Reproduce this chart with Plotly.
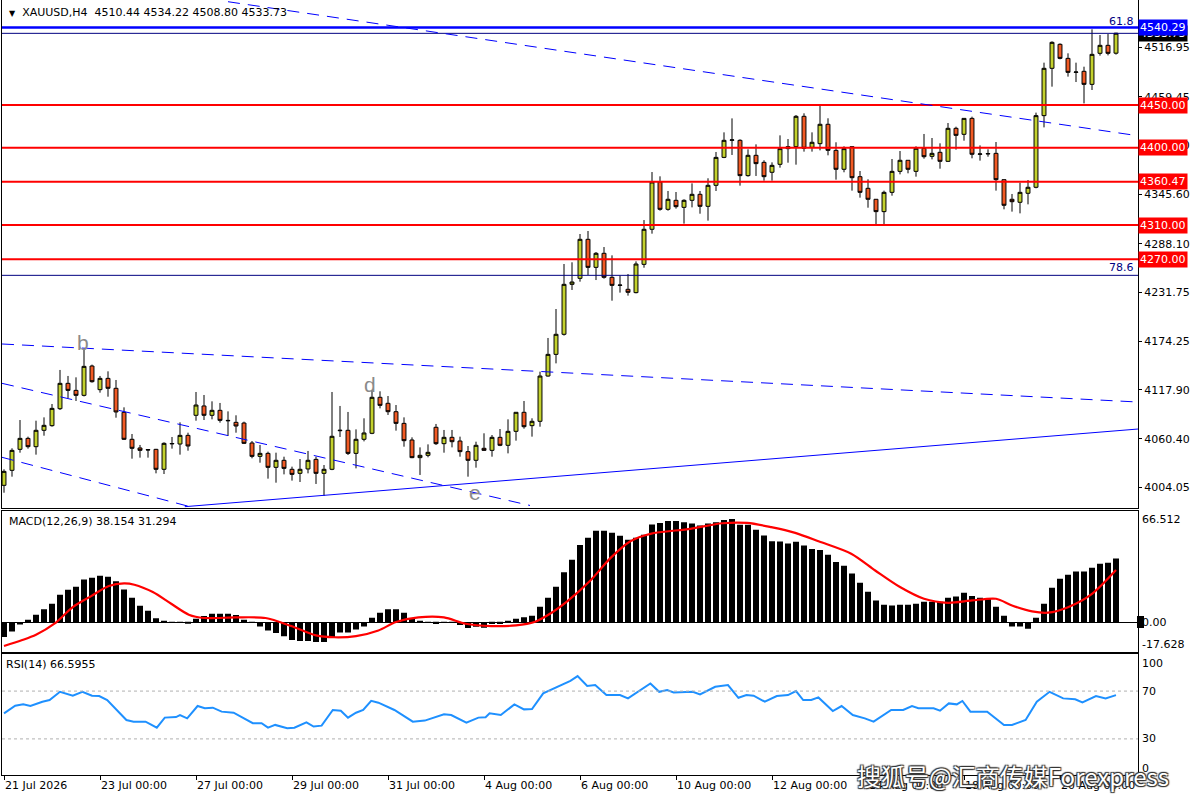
import plotly.graph_objects as go

# ---- price data (H4 bars, index 0 = 21 Jul 2026 00:00) ----
bar_index = list(range(140))

opens = [
    4006.3, 4023.8, 4048.3, 4061.1, 4051.4, 4070.5, 4075.9, 4095.7, 4125.3, 4117.1,
    4111.3, 4145.5, 4117.9, 4131.1, 4119.5, 4091.5, 4060.0, 4049.9, 4048.0, 4048.3,
    4025.0, 4054.6, 4054.5, 4064.6, 4088.0, 4098.9, 4088.0, 4093.8, 4082.1, 4079.8,
    4079.0, 4055.7, 4040.1, 4043.6, 4027.3, 4035.5, 4025.0, 4020.3, 4025.4, 4036.6,
    4020.3, 4025.0, 4070.0, 4070.5, 4043.6, 4060.0, 4067.0, 4109.0, 4102.0, 4092.2,
    4078.6, 4059.2, 4038.6, 4041.3, 4074.0, 4054.9, 4062.3, 4058.0, 4045.6, 4035.5,
    4049.5, 4047.1, 4062.3, 4053.0, 4069.3, 4091.5, 4075.9, 4081.0, 4133.8, 4159.1,
    4182.5, 4240.8, 4247.8, 4293.3, 4260.6, 4277.0, 4249.0, 4239.6, 4235.0, 4231.1,
    4264.1, 4305.0, 4360.2, 4328.3, 4338.8, 4330.6, 4338.8, 4345.8, 4331.8, 4356.3,
    4388.9, 4408.8, 4408.8, 4367.6, 4391.3, 4383.1, 4371.5, 4380.8, 4399.1, 4401.4,
    4436.8, 4400.6, 4404.9, 4427.5, 4397.1, 4375.0, 4401.4, 4366.4, 4352.8, 4340.0,
    4325.6, 4348.1, 4372.6, 4385.5, 4372.6, 4399.5, 4390.1, 4394.8, 4384.3, 4422.8,
    4415.8, 4434.4, 4392.5, 4392.9, 4393.6, 4362.9, 4340.0, 4336.5, 4347.0, 4354.0,
    4437.6, 4492.8, 4520.8, 4504.4, 4488.1, 4489.3, 4474.1, 4510.3, 4519.6, 4510.44,
]
highs = [
    4025.0, 4049.5, 4082.5, 4063.1, 4081.7, 4085.6, 4101.2, 4140.9, 4133.9, 4132.3,
    4164.2, 4147.1, 4133.9, 4139.3, 4129.2, 4097.3, 4066.2, 4053.4, 4048.3, 4048.8,
    4056.5, 4062.7, 4079.8, 4067.7, 4115.2, 4111.7, 4104.3, 4102.4, 4092.6, 4088.0,
    4080.6, 4058.0, 4053.4, 4045.6, 4044.4, 4039.7, 4028.1, 4037.0, 4046.4, 4039.7,
    4030.0, 4115.2, 4098.9, 4091.9, 4071.6, 4084.5, 4117.5, 4116.0, 4110.5, 4100.0,
    4085.6, 4062.3, 4050.6, 4054.1, 4077.9, 4070.9, 4070.9, 4063.1, 4052.2, 4057.2,
    4067.0, 4065.0, 4072.0, 4083.3, 4091.5, 4104.7, 4084.5, 4138.9, 4178.2, 4212.0,
    4264.5, 4266.5, 4299.5, 4303.0, 4278.5, 4284.3, 4274.6, 4250.9, 4252.8, 4267.6,
    4315.8, 4371.8, 4366.8, 4349.7, 4348.5, 4340.0, 4358.6, 4349.7, 4364.5, 4395.2,
    4418.1, 4434.4, 4410.0, 4398.3, 4404.1, 4385.5, 4383.1, 4414.6, 4410.3, 4438.3,
    4440.3, 4418.1, 4448.8, 4434.5, 4406.5, 4401.8, 4401.4, 4373.0, 4363.3, 4340.0,
    4350.1, 4387.0, 4396.3, 4385.5, 4401.8, 4416.2, 4411.5, 4405.3, 4429.0, 4424.7,
    4434.4, 4436.4, 4402.9, 4398.3, 4406.8, 4362.9, 4346.2, 4359.4, 4362.5, 4441.1,
    4499.4, 4524.3, 4521.9, 4510.3, 4499.4, 4494.7, 4538.3, 4531.7, 4532.8, 4534.22,
]
lows = [
    3997.7, 4016.4, 4044.4, 4049.1, 4042.1, 4064.2, 4074.7, 4094.2, 4107.8, 4104.7,
    4110.0, 4126.1, 4114.4, 4109.7, 4085.2, 4059.2, 4037.4, 4038.6, 4038.6, 4020.3,
    4019.5, 4049.1, 4042.1, 4046.7, 4081.7, 4082.5, 4083.3, 4079.4, 4063.9, 4067.7,
    4054.5, 4037.8, 4032.7, 4014.1, 4009.4, 4019.1, 4011.8, 4010.2, 4020.3, 4007.9,
    3993.9, 4024.0, 4062.7, 4041.7, 4026.1, 4057.6, 4066.0, 4096.1, 4088.4, 4070.1,
    4051.4, 4038.0, 4018.4, 4039.0, 4053.4, 4044.4, 4050.6, 4039.7, 4016.4, 4026.9,
    4046.5, 4039.7, 4052.0, 4043.6, 4058.4, 4072.4, 4063.1, 4074.7, 4133.1, 4148.6,
    4181.0, 4234.2, 4243.9, 4251.7, 4245.8, 4247.4, 4221.7, 4231.1, 4227.6, 4230.3,
    4260.2, 4299.9, 4326.7, 4326.7, 4329.1, 4311.6, 4330.6, 4323.2, 4315.1, 4349.7,
    4388.0, 4391.7, 4355.9, 4366.4, 4367.2, 4361.7, 4361.7, 4376.9, 4382.7, 4380.4,
    4395.6, 4395.6, 4397.1, 4391.3, 4362.9, 4371.5, 4350.1, 4341.9, 4330.2, 4310.0,
    4310.0, 4344.2, 4369.1, 4370.3, 4366.4, 4387.4, 4386.6, 4375.7, 4383.5, 4397.9,
    4408.4, 4387.8, 4385.1, 4389.7, 4350.1, 4328.3, 4325.6, 4323.6, 4334.1, 4352.8,
    4423.9, 4471.4, 4503.3, 4483.1, 4476.8, 4451.9, 4467.5, 4507.6, 4507.9, 4508.80,
]
closes = [
    4022.6, 4047.1, 4061.1, 4051.4, 4070.5, 4076.3, 4096.1, 4125.3, 4117.1, 4111.3,
    4145.1, 4127.2, 4131.1, 4119.5, 4091.9, 4060.0, 4049.5, 4047.1, 4047.6, 4025.0,
    4055.3, 4055.1, 4064.6, 4052.2, 4100.0, 4088.0, 4093.8, 4082.1, 4081.7, 4075.5,
    4055.3, 4040.1, 4043.6, 4027.3, 4035.5, 4026.1, 4019.1, 4025.0, 4035.5, 4020.3,
    4025.0, 4063.5, 4070.5, 4043.6, 4060.0, 4067.4, 4109.0, 4099.6, 4092.2, 4078.6,
    4058.4, 4038.6, 4041.3, 4044.8, 4054.9, 4062.3, 4057.2, 4045.6, 4035.5, 4053.0,
    4047.1, 4062.3, 4053.0, 4069.3, 4091.5, 4074.7, 4081.0, 4133.8, 4159.1, 4182.5,
    4240.8, 4243.5, 4293.3, 4260.6, 4277.0, 4249.0, 4239.6, 4239.9, 4231.5, 4264.5,
    4305.0, 4360.2, 4328.3, 4340.0, 4331.4, 4338.8, 4345.8, 4331.8, 4356.3, 4388.9,
    4408.8, 4409.3, 4367.6, 4391.3, 4381.6, 4366.4, 4379.6, 4399.1, 4401.4, 4436.8,
    4399.5, 4406.5, 4427.5, 4397.1, 4375.0, 4399.1, 4365.2, 4348.1, 4340.0, 4325.6,
    4348.1, 4372.6, 4385.5, 4375.0, 4399.5, 4389.7, 4393.6, 4384.3, 4422.8, 4414.6,
    4434.4, 4392.5, 4392.9, 4393.3, 4362.9, 4333.0, 4337.2, 4348.1, 4354.0, 4437.6,
    4492.8, 4523.1, 4504.4, 4488.1, 4488.5, 4474.1, 4509.1, 4519.6, 4510.3, 4533.73,
]

# ---- MACD(12,26,9) ----
macd_main = [
    -8.7, -5.4, -1.2, 1.6, 4.6, 7.8, 11.1, 16.5, 19.5, 21.3,
    25.6, 26.6, 27.8, 27.2, 24.5, 19.7, 14.7, 9.9, 7.0, 2.4,
    1.0, 0.3, 0.1, -0.8, 2.2, 3.8, 5.2, 5.2, 5.2, 4.4,
    1.5, 0.3, -2.4, -4.8, -6.4, -8.3, -10.5, -11.1, -11.1, -11.7,
    -11.7, -8.7, -6.0, -6.0, -4.2, -2.4, 2.8, 5.8, 7.8, 7.8,
    5.8, 2.2, 1.0, 0.3, -1.0, 0.2, 0.1, -1.6, -3.4, -2.6,
    -3.2, -1.0, -1.0, 0.5, 2.2, 3.0, 4.0, 9.3, 14.7, 21.3,
    30.0, 37.4, 46.3, 50.5, 54.7, 54.7, 53.5, 51.7, 49.3, 50.5,
    52.3, 58.4, 59.4, 60.6, 60.6, 59.8, 59.0, 57.9, 59.0, 59.8,
    61.2, 61.8, 58.3, 58.3, 55.3, 51.9, 48.5, 48.3, 47.1, 48.1,
    45.9, 43.9, 43.3, 40.4, 36.0, 33.8, 29.2, 23.7, 18.3, 13.1,
    10.5, 10.1, 10.5, 10.5, 11.1, 12.3, 12.3, 12.3, 14.7, 15.5,
    17.7, 15.7, 14.7, 14.1, 9.3, 4.0, -2.4, -2.4, -3.8, 2.8,
    11.1, 20.7, 26.0, 28.4, 30.4, 30.4, 32.6, 35.0, 35.6, 38.154,
]
signal_bars = [0, 2.2, 4, 6.3, 8.6, 10.9, 13.1, 15, 16.3, 18.6,
               20.9, 23.1, 25, 29, 32.7, 35.9, 39, 41.3, 44, 46.8,
               49, 51.8, 55, 57.7, 60.9, 64, 66.3, 68.6, 70.4, 73.3,
               75.8, 78.3, 80.8, 85.8, 89.8, 92.9, 95.9, 98.9, 101.9, 105.9,
               108.9, 112, 115, 118, 121, 124, 126, 128.5, 130.5, 133,
               136, 139]
signal_vals = [-14.1, -10.7, -7.4, -0.8, 9.1, 15.7, 21.7, 23.3, 22.5, 18.1,
               11.1, 4.6, 2.6, 3.0, 2.6, -2.2, -7.8, -8.9, -8.2, -4.8,
               0.2, 3.0, 3.0, -0.8, -2.2, -1.8, 0.2, 6.2, 12.5, 25.0,
               38.4, 48.5, 52.9, 55.9, 59.2, 59.4, 56.9, 53.5, 48.3, 41.0,
               31.0, 21.1, 14.1, 11.7, 13.1, 14.1, 10.1, 6.6, 5.8, 9.1,
               17.1, 31.294]

# ---- RSI(14) ----
rsi_bars = [0, 1.4, 2.4, 3.3, 4.8, 5.7, 7, 8.6, 9.8, 11,
            11.9, 12.9, 15.3, 16.2, 17.7, 19.1, 20.1, 21.5, 22, 22.9,
            24.2, 25.1, 26.1, 27.2, 28.7, 31.1, 32.2, 33, 33.9, 35.4,
            36.3, 37.8, 38.7, 39.7, 41.1, 42.1, 43, 44, 44.9, 45.9,
            46.8, 48.8, 51.1, 52.6, 55, 55.9, 57.8, 59.3, 60.2, 60.7,
            62.1, 63.8, 65, 66, 67.4, 69.3, 70.8, 71.7, 72.9, 73.9,
            75.3, 77, 78, 80.8, 81.9, 82.9, 83.7, 86.1, 87, 88.9,
            90.5, 91.8, 92.8, 93.7, 95.1, 96.6, 98, 99, 99.9, 100.9,
            101.8, 103.6, 104.7, 106.1, 107.6, 108.7, 110.9, 112.4, 113.5, 114.3,
            116.2, 117, 118.1, 119.1, 119.8, 120.8, 122.9, 125, 126, 127.7,
            129.1, 130.7, 132.4, 133.9, 134.8, 136.5, 137.7, 139]
rsi_vals = [51.4, 57.8, 58.9, 57.5, 61.1, 62.5, 69.4, 66.1, 69.4, 66.1,
            65.8, 62.5, 45.8, 44.4, 44.4, 39.4, 47.8, 48.3, 50.0, 47.2,
            57.5, 55.6, 56.1, 52.8, 51.9, 43.1, 43.1, 39.4, 41.7, 38.9,
            39.4, 43.9, 40.3, 41.1, 54.2, 53.6, 47.8, 51.9, 54.2, 61.9,
            60.3, 54.2, 44.4, 45.3, 50.6, 50.0, 43.6, 47.8, 48.1, 51.4,
            50.0, 58.9, 54.7, 55.0, 68.1, 73.6, 78.6, 82.5, 74.2, 75.0,
            66.7, 66.7, 63.9, 76.4, 69.4, 70.8, 68.9, 69.4, 67.2, 73.6,
            75.0, 64.4, 66.7, 66.1, 61.1, 65.8, 66.7, 70.0, 62.5, 62.5,
            64.7, 53.3, 57.5, 50.0, 47.2, 44.4, 54.2, 54.2, 57.5, 55.6,
            55.6, 53.6, 59.7, 58.9, 61.7, 52.8, 52.8, 41.7, 41.7, 45.8,
            61.1, 69.4, 63.9, 63.1, 60.6, 65.8, 63.9, 66.6]

# ---- levels / labels ----
red_levels = [4450.00, 4400.00, 4360.47, 4310.00, 4270.00]
blue_level = 4540.29
last_price = 4533.73
fib_prices = [4533.6, 4251.3]
fib_names = ["61.8", "78.6"]
fib_label_prices = [4548.0, 4259.9]

price_ticks = [4516.95, 4459.45, 4403.10, 4345.60, 4288.10,
               4231.75, 4174.25, 4117.90, 4060.40, 4004.05]

date_ticks = [0, 12, 24, 36, 48, 60, 72, 84, 96, 108, 120, 132]
date_labels = ["21 Jul 2026", "23 Jul 00:00", "27 Jul 00:00", "29 Jul 00:00",
               "31 Jul 00:00", "4 Aug 00:00", "6 Aug 00:00", "10 Aug 00:00",
               "12 Aug 00:00", "14 Aug 00:00", "18 Aug 00:00", "20 Aug 00:00"]

wave_names = ["b", "d", "e"]
wave_x = [9.9, 45.75, 58.9]
wave_y = [4172.4, 4123.4, 3998.5]

# trend lines: (x0, y0, x1, y1, dash)
trend_lines = [
    (28.0, 4570.5, 141.75, 4414.1, "dash"),
    (-0.25, 4171.2, 141.75, 4103.5, "dash"),
    (-0.25, 4125.3, 65.75, 3982.8, "dash"),
    (-0.25, 4039.0, 23.25, 3981.4, "dash"),
    (22.6, 3981.4, 141.75, 4072.0, "solid"),
]

BULL = "#c3d12d"
BEAR = "#f15a24"

fig = go.Figure()

fig.add_trace(go.Candlestick(
    x=bar_index, open=opens, high=highs, low=lows, close=closes,
    increasing=dict(fillcolor=BULL, line=dict(color="black", width=1)),
    decreasing=dict(fillcolor=BEAR, line=dict(color="black", width=1)),
    whiskerwidth=0, xaxis="x", yaxis="y", hoverinfo="skip",
))

fig.add_trace(go.Bar(
    x=bar_index, y=macd_main, marker=dict(color="black", line=dict(width=0)),
    xaxis="x2", yaxis="y2", hoverinfo="skip",
))
fig.add_trace(go.Scatter(
    x=signal_bars, y=signal_vals, mode="lines",
    line=dict(color="#ff0000", width=2.2, shape="spline", smoothing=0.8),
    xaxis="x2", yaxis="y2", hoverinfo="skip",
))

fig.add_trace(go.Scatter(
    x=rsi_bars, y=rsi_vals, mode="lines",
    line=dict(color="#1e90ff", width=2),
    xaxis="x3", yaxis="y3", hoverinfo="skip",
))

shapes = []
for lv in red_levels:
    shapes.append(dict(type="line", xref="paper", x0=0, x1=1, yref="y", y0=lv, y1=lv,
                       line=dict(color="#ff0000", width=2)))
shapes.append(dict(type="line", xref="paper", x0=0, x1=1, yref="y", y0=blue_level, y1=blue_level,
                   line=dict(color="#0000ff", width=2.5)))
for fp in fib_prices:
    shapes.append(dict(type="line", xref="paper", x0=0, x1=1, yref="y", y0=fp, y1=fp,
                       line=dict(color="#000080", width=1)))
for x0, y0, x1, y1, dash in trend_lines:
    shapes.append(dict(type="line", xref="x", yref="y", x0=x0, y0=y0, x1=x1, y1=y1,
                       line=dict(color="#0000ff", width=1, dash=dash if dash == "solid" else "12px,8px")))
for lv in [70, 30]:
    shapes.append(dict(type="line", xref="paper", x0=0, x1=1, yref="y3", y0=lv, y1=lv,
                       line=dict(color="#b0b0b0", width=1, dash="dot")))
# small black marker box beside MACD zero label
shapes.append(dict(type="rect", xref="paper", yref="paper", x0=0.9991, x1=1.0053,
                   y0=0.1897, y1=0.2052, fillcolor="black", line=dict(width=0)))

ann = []
# current price box (behind the blue one) and level boxes
ann.append(dict(xref="paper", x=1, xanchor="left", yref="y", y=last_price, text=f"{last_price:.2f}",
                showarrow=False, bgcolor="black", font=dict(color="white", size=11), borderpad=1))
ann.append(dict(xref="paper", x=1, xanchor="left", yref="y", y=blue_level, text=f"{blue_level:.2f}",
                showarrow=False, bgcolor="#0000ff", font=dict(color="white", size=11), borderpad=1))
for lv in red_levels:
    ann.append(dict(xref="paper", x=1, xanchor="left", yref="y", y=lv, text=f"{lv:.2f}",
                    showarrow=False, bgcolor="#ff0000", font=dict(color="white", size=11), borderpad=1))
for name, yp in zip(fib_names, fib_label_prices):
    ann.append(dict(xref="paper", x=1, xanchor="right", xshift=-2, yref="y", y=yp, text=name,
                    showarrow=False, font=dict(color="#000080", size=11)))
for name, wx, wy in zip(wave_names, wave_x, wave_y):
    ann.append(dict(xref="x", yref="y", x=wx, y=wy, text=name, showarrow=False,
                    font=dict(family="Liberation Sans", color="#8a8a8a", size=21)))

# pane titles
ann.append(dict(xref="paper", yref="paper", x=0.0044, y=0.9845, xanchor="left", yanchor="middle",
                text="<span style='font-size:8px'>▼</span>  XAUUSD,H4\u00a0 4510.44 4534.22 4508.80 4533.73",
                showarrow=False, font=dict(size=11)))
ann.append(dict(xref="paper", yref="paper", x=0.0044, y=0.3277, xanchor="left", yanchor="middle",
                text="MACD(12,26,9) 38.154 31.294", showarrow=False, font=dict(size=11)))
ann.append(dict(xref="paper", yref="paper", x=0.0018, y=0.1432, xanchor="left", yanchor="middle",
                text="RSI(14) 66.5955", showarrow=False, font=dict(size=11)))

# indicator scale labels
for txt, yv in [("66.512", 0.3303), ("-17.628", 0.169), ("100", 0.1445), ("0", 0.009)]:
    ann.append(dict(xref="paper", yref="paper", x=1, xshift=2, y=yv, xanchor="left", yanchor="middle",
                    text=txt, showarrow=False, font=dict(size=11)))
ann.append(dict(xref="paper", yref="y2", x=1, xshift=2, y=0, xanchor="left", yanchor="middle",
                text="0.00", showarrow=False, font=dict(size=11)))
for lv in [70, 30]:
    ann.append(dict(xref="paper", yref="y3", x=1, xshift=2, y=lv, xanchor="left", yanchor="middle",
                    text=str(lv), showarrow=False, font=dict(size=11)))

# watermark
ann.append(dict(xref="paper", yref="paper", x=0.89, y=0.0, xanchor="center", yanchor="middle",
                text="搜狐号@汇商传媒Forexpress", showarrow=False,
                font=dict(family="Noto Sans CJK SC", size=24, color="white",
                          shadow="1px 1px 1px #333, -1px -1px 1px #333, 1px -1px 1px #333, -1px 1px 1px #333")))

axis_common = dict(showline=True, mirror=True, linecolor="black", linewidth=1,
                   showgrid=False, zeroline=False)

fig.update_layout(
    width=1200, height=800,
    margin=dict(l=2, r=62, t=0, b=25),
    paper_bgcolor="white", plot_bgcolor="white",
    showlegend=False,
    font=dict(family="DejaVu Sans", size=11, color="black"),
    bargap=0.25,
    shapes=shapes,
    annotations=ann,
    xaxis=dict(anchor="y", range=[-0.25, 141.75], showticklabels=False, ticks="",
               rangeslider=dict(visible=False), **axis_common),
    xaxis2=dict(anchor="y2", matches="x", showticklabels=False, ticks="", **axis_common),
    xaxis3=dict(anchor="y3", matches="x", tickvals=date_ticks, ticktext=date_labels,
                ticks="outside", ticklen=4, tickcolor="black",
                ticklabelposition="outside right", tickfont=dict(size=11), **axis_common),
    yaxis=dict(domain=[0.3439, 1], range=[3979.3, 4572.5], side="right",
               tickvals=price_ticks, ticktext=[f"{v:.2f}" for v in price_ticks],
               ticks="outside", ticklen=3, tickcolor="black", tickfont=dict(size=11),
               **axis_common),
    yaxis2=dict(domain=[0.1587, 0.3410], range=[-17.7, 66.7], side="right",
                showticklabels=False, ticks="", showline=True, mirror=True, linecolor="black",
                showgrid=False, zeroline=True, zerolinecolor="black", zerolinewidth=1),
    yaxis3=dict(domain=[0, 0.1561], range=[-0.2, 101], side="right",
                showticklabels=False, ticks="", **axis_common),
)

# remove the default page margin so the figure sits at the window's top-left corner
fig.write_html("out.html", config={"displayModeBar": False},
               post_script="document.body.style.margin='0px';")
